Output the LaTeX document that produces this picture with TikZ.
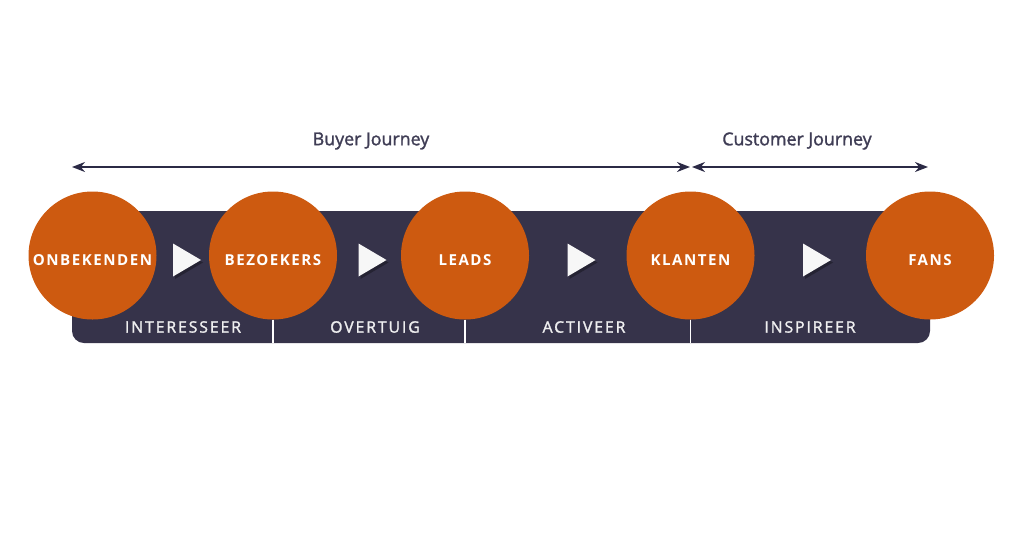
\documentclass[tikz,border=0pt]{standalone}
\usepackage{fontspec}
\setmainfont{Open Sans}
\newfontfamily\stagefont[LetterSpace=10]{Open Sans}
\newfontfamily\stepfont[LetterSpace=12,FakeBold=1.6]{Open Sans}
\newfontfamily\journeyfont[FakeBold=1.6]{Open Sans}
\usetikzlibrary{arrows.meta,shadows}

\definecolor{funnelorange}{HTML}{CD5A10}
\definecolor{bandnavy}{HTML}{36334A}
\definecolor{linenavy}{HTML}{2B2A45}
\definecolor{labelgray}{HTML}{3F3D55}

\begin{document}
\begin{tikzpicture}[x=1pt,y=-1pt,
  stage/.style={circle,fill=funnelorange,minimum size=128pt,inner sep=0pt},
  stagetxt/.style={text=white,font=\stagefont\bfseries\fontsize{15.1}{17}\selectfont},
  steptxt/.style={text=white!92!bandnavy,font=\stepfont\fontsize{15.8}{17}\selectfont},
  journey/.style={text=labelgray,font=\journeyfont\fontsize{17.8}{19}\selectfont},
  sep/.style={draw=white,line width=1.6pt},
  tri/.style={fill=white!94!gray,drop shadow={opacity=0.3,fill=black,shadow xshift=2pt,shadow yshift=-2.5pt}}]

\useasboundingbox (0,0) rectangle (1024,536);

% dark band behind the circles
\node[fill=bandnavy,rounded corners=12pt,minimum width=858pt,minimum height=132pt,inner sep=0pt] (band) at (501,277) {};

% the five stages
\node[stage] (onb) at (92.5,255.5) {};
\node[stage] (bez) at (273,255.5) {};
\node[stage] (lea) at (465,255.5) {};
\node[stage] (kla) at (690.5,255.5) {};
\node[stage] (fan) at (930,255.5) {};

\node[stagetxt] (onbt) at (92.5,260) {ONBEKENDEN};
\node[stagetxt] (bezt) at (273,260) {BEZOEKERS};
\node[stagetxt] (leat) at (465,260) {LEADS};
\node[stagetxt] (klat) at (690.5,260) {KLANTEN};
\node[stagetxt] (fant) at (930,260) {FANS};

% play triangles
\foreach \x in {186.5,372,581,816.5}
  \fill[tri] (\x-13.5,243.5) -- (\x+14.5,260) -- (\x-13.5,276.5) -- cycle;

% separators under the circles
\draw[sep] (bez.south) -- (bez.south |- band.south);
\draw[sep] (lea.south) -- (lea.south |- band.south);
\draw[sep] (kla.south) -- (kla.south |- band.south);

% step labels
\node[steptxt] (int) at (183,327) {INTERESSEER};
\node[steptxt] (ove) at (375,327) {OVERTUIG};
\node[steptxt] (act) at (584,327) {ACTIVEER};
\node[steptxt] (ins) at (810,327) {INSPIREER};

% journeys
\coordinate (bj1) at (72,167);
\coordinate (bj2) at (690,167);
\coordinate (cj1) at (692,167);
\coordinate (cj2) at (928,167);
\draw[linenavy,line width=1.8pt,{Stealth[length=13pt,width=10pt]}-{Stealth[length=13pt,width=10pt]}] (bj1) -- (bj2);
\draw[linenavy,line width=1.8pt,{Stealth[length=13pt,width=10pt]}-{Stealth[length=13pt,width=10pt]}] (cj1) -- (cj2);

\node[journey] (buy) at (371,141) {Buyer Journey};
\node[journey] (cus) at (797,141) {Customer Journey};

\end{tikzpicture}
\end{document}
